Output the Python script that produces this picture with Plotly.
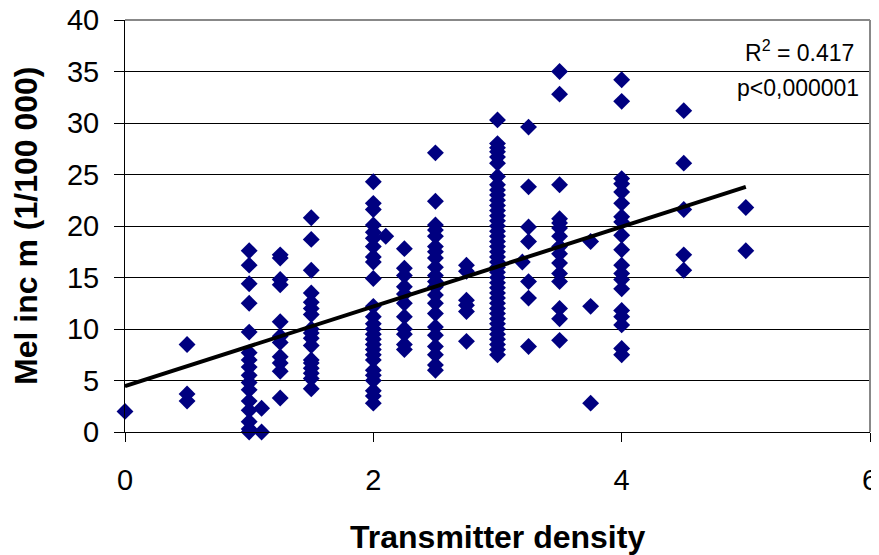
import plotly.graph_objects as go

# Transmitter density levels and the melanoma incidence values observed at each level
density_levels = [0, 0.5, 1, 1.1, 1.25, 1.5, 2, 2.1, 2.25, 2.5, 2.75, 3, 3.2, 3.25, 3.5, 3.75, 4, 4.5, 5]

inc_0 = [2.0]
inc_0_5 = [8.5, 3.7, 3.0]
inc_1 = [17.6, 16.2, 14.4, 12.5, 9.7, 7.7, 7.0, 6.3, 5.5, 4.8, 4.1, 3.0, 2.1, 1.0, 0.3, 0.0]
inc_1_1 = [2.3, 0.0]
inc_1_25 = [17.2, 16.9, 14.8, 14.3, 10.7, 9.3, 8.7, 7.3, 6.7, 5.9, 3.3]
inc_1_5 = [20.8, 18.7, 15.7, 13.5, 12.6, 12.0, 11.4, 10.0, 9.6, 9.1, 8.4, 7.0, 6.7, 6.2, 5.7, 5.2, 4.2]
inc_2 = [24.3, 22.2, 21.6, 20.1, 19.4, 18.8, 18.0, 17.0, 16.5, 14.9, 12.2, 11.2, 10.5, 10.0, 9.5,
         9.0, 8.5, 8.0, 7.5, 7.0, 6.0, 5.5, 5.0, 4.0, 3.5, 2.8]
inc_2_1 = [19.0]
inc_2_25 = [17.8, 15.9, 15.2, 14.1, 13.4, 12.5, 11.2, 10.0, 9.5, 8.5, 8.0]
inc_2_5 = [27.1, 22.4, 20.1, 19.6, 19.0, 18.0, 17.5, 16.9, 16.0, 15.2, 14.6, 14.1, 13.3, 12.5,
           11.5, 10.2, 9.4, 8.3, 7.5, 6.5, 6.0]
inc_2_75 = [16.2, 15.6, 12.8, 12.3, 11.7, 8.8]
inc_3 = [30.3, 28.0, 27.6, 27.2, 26.7, 26.1, 24.8, 24.0, 23.5, 23.0, 22.5, 22.0, 21.5, 21.0, 20.5,
         20.0, 19.5, 19.0, 18.5, 18.0, 17.5, 17.0, 16.5, 16.0, 15.5, 15.0, 14.5, 14.0, 13.5, 13.0,
         12.5, 12.0, 11.5, 11.0, 10.5, 10.0, 9.5, 9.0, 8.5, 8.0, 7.5]
inc_3_2 = [16.5]
inc_3_25 = [29.6, 23.8, 19.9, 18.5, 14.6, 13.0, 8.3]
inc_3_5 = [35.0, 32.8, 24.0, 20.7, 20.3, 19.8, 19.0, 18.0, 17.3, 16.4, 15.4, 14.6, 12.0, 11.0, 8.9]
inc_3_75 = [18.5, 12.2, 2.8]
inc_4 = [34.2, 32.1, 24.6, 24.1, 23.3, 22.2, 20.9, 20.4, 19.1, 17.7, 16.2, 15.4, 14.8, 13.9,
         11.8, 11.2, 10.4, 8.1, 7.5]
inc_4_5 = [31.2, 26.1, 21.6, 17.2, 15.7]
inc_5 = [21.8, 17.6]

incidence_by_level = [inc_0, inc_0_5, inc_1, inc_1_1, inc_1_25, inc_1_5, inc_2, inc_2_1, inc_2_25,
                      inc_2_5, inc_2_75, inc_3, inc_3_2, inc_3_25, inc_3_5, inc_3_75, inc_4,
                      inc_4_5, inc_5]

# Linear trend line (as drawn in the reference)
trend_intercept = 4.45
trend_slope = 3.87
trend_x = [0, 5]

x_ticks = [0, 2, 4, 6]
y_ticks = [0, 5, 10, 15, 20, 25, 30, 35, 40]

xs, ys = [], []
for lvl, vals in zip(density_levels, incidence_by_level):
    xs.extend([lvl] * len(vals))
    ys.extend(vals)

FONT = "Liberation Sans, Arial, sans-serif"

fig = go.Figure()
fig.add_trace(go.Scatter(
    x=xs, y=ys, mode="markers",
    marker=dict(symbol="diamond", size=13, color="#000080", line=dict(width=0)),
    showlegend=False, hoverinfo="x+y", cliponaxis=False))
fig.add_trace(go.Scatter(
    x=trend_x, y=[trend_intercept + trend_slope * v for v in trend_x], mode="lines",
    line=dict(color="black", width=4), showlegend=False, hoverinfo="skip"))

# the page body has an 8px margin, so the figure is sized/offset to keep the plot area in place
fig.update_layout(
    width=871, height=547,
    margin=dict(l=117, r=9, t=12, b=123),
    paper_bgcolor="white", plot_bgcolor="white",
    font=dict(family=FONT, size=29, color="black"),
    xaxis=dict(range=[0, 6], tickvals=x_ticks, ticktext=[str(v) for v in x_ticks],
               showgrid=False, zeroline=False, showline=True, linecolor="black", linewidth=1,
               ticks="outside", ticklen=9, tickcolor="black", tickfont=dict(size=29),
               ticklabelstandoff=13, automargin=False, ticklabeloverflow="allow"),
    yaxis=dict(range=[0, 40], tickvals=y_ticks, ticktext=[str(v) for v in y_ticks],
               showgrid=True, gridcolor="black", gridwidth=1, zeroline=False,
               showline=True, linecolor="black", linewidth=1,
               ticks="outside", ticklen=10, tickcolor="black", tickfont=dict(size=29),
               ticklabelstandoff=9, automargin=False, ticklabeloverflow="allow"),
    shapes=[
        dict(type="line", xref="paper", yref="paper", x0=1, x1=1, y0=0, y1=1,
             line=dict(color="#888888", width=2)),
        dict(type="line", xref="paper", yref="paper", x0=0, x1=1, y0=1, y1=1,
             line=dict(color="#888888", width=2)),
    ],
    annotations=[
        dict(text="<b>Transmitter density</b>", xref="paper", yref="paper",
             x=0.5, y=-0.255, xanchor="center", yanchor="middle", showarrow=False,
             font=dict(size=32)),
        dict(text="<b>Mel inc m (1/100 000)</b>", xref="paper", yref="paper",
             x=-0.133, y=0.5, xanchor="center", yanchor="middle", showarrow=False,
             textangle=-90, font=dict(size=32)),
        dict(text="R<sup>2</sup> = 0.417", xref="paper", yref="paper", x=0.981, y=0.925,
             xanchor="right", yanchor="middle", showarrow=False, font=dict(size=23)),
        dict(text="p<0,000001", xref="paper", yref="paper", x=0.988, y=0.835,
             xanchor="right", yanchor="middle", showarrow=False, font=dict(size=23)),
    ],
)

fig.write_html("out.html")
